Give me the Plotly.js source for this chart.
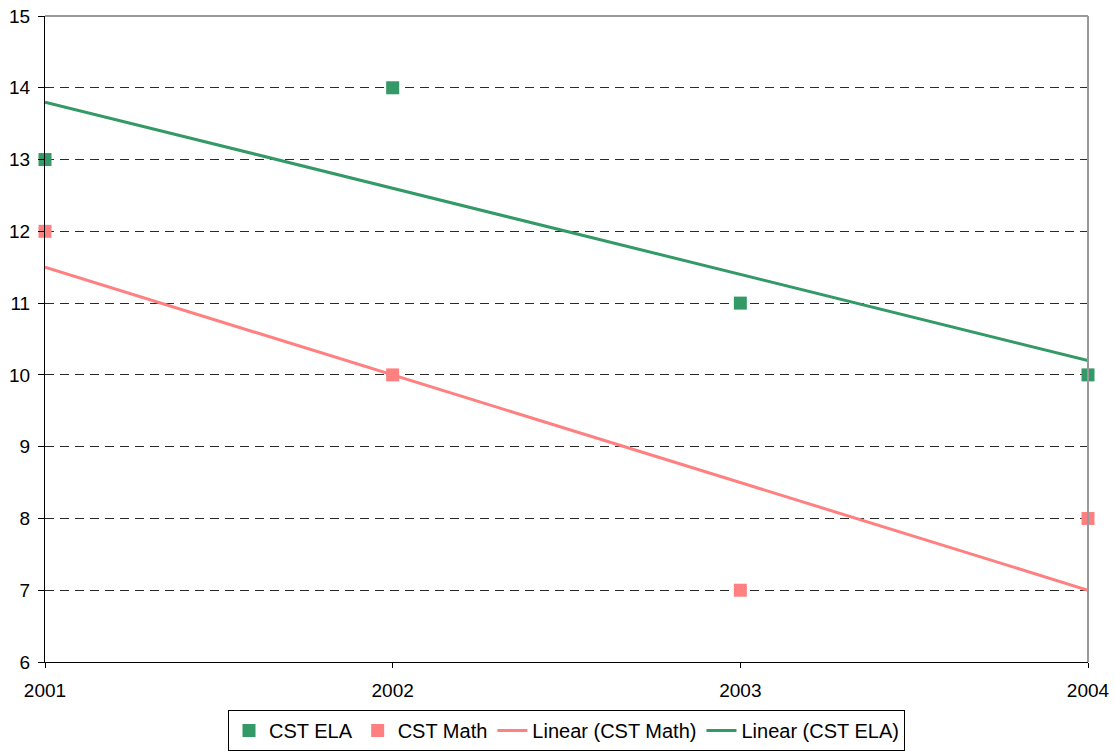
<!DOCTYPE html>
<html>
<head>
<meta charset="utf-8">
<script src="https://cdn.plot.ly/plotly-3.0.1.min.js"></script>
<style>html,body{margin:0;padding:0;background:#fff;}#chart{width:1115px;height:751px;}</style>
</head>
<body>
<div id="chart"></div>
<script>
var years = [2001, 2002, 2003, 2004];
var elaValues = [13, 14, 11, 10];
var mathValues = [12, 10, 7, 8];
var trendYears = [2001, 2004];
var elaTrend = [13.8, 10.2];
var mathTrend = [11.5, 7.0];
var yTicks = [6, 7, 8, 9, 10, 11, 12, 13, 14, 15];

var green = '#339966';
var pink = '#FF8080';

var traces = [
  {x: trendYears, y: mathTrend, mode: 'lines', name: 'Linear (CST Math)',
   line: {color: pink, width: 3}, legendrank: 3, cliponaxis: false},
  {x: trendYears, y: elaTrend, mode: 'lines', name: 'Linear (CST ELA)',
   line: {color: green, width: 3}, legendrank: 4, cliponaxis: false},
  {x: years, y: elaValues, mode: 'markers', name: 'CST ELA',
   marker: {symbol: 'square', size: 13, color: green}, legendrank: 1, cliponaxis: false},
  {x: years, y: mathValues, mode: 'markers', name: 'CST Math',
   marker: {symbol: 'square', size: 13, color: pink}, legendrank: 2, cliponaxis: false}
];

var layout = {
  width: 1115, height: 751,
  margin: {l: 45, r: 27, t: 16, b: 89, autoexpand: false},
  paper_bgcolor: '#ffffff', plot_bgcolor: '#ffffff',
  font: {family: 'Liberation Sans, Arial, sans-serif', size: 19, color: '#000'},
  showlegend: true,
  legend: {orientation: 'h', x: 0.5, xanchor: 'center', xref: 'paper',
           yref: 'container', y: 0.0, yanchor: 'bottom',
           bordercolor: '#000', borderwidth: 1, font: {size: 20},
           itemwidth: 30, traceorder: 'normal', tracegroupgap: 0},
  xaxis: {range: [2001, 2004], tickvals: years, ticktext: years.map(String),
          showgrid: false, zeroline: false, showline: true, linecolor: '#000', linewidth: 1,
          ticks: 'outside', ticklen: 5, tickcolor: '#000', ticklabelstandoff: 6,
          fixedrange: true},
  yaxis: {range: [6, 15], tickvals: yTicks, ticktext: yTicks.map(String),
          showgrid: true, gridcolor: '#2a2a2a', griddash: '9px,6px', gridwidth: 1,
          zeroline: false, showline: true, linecolor: '#000', linewidth: 1,
          ticks: 'outside', ticklen: 6, tickcolor: '#000', ticklabelstandoff: 4,
          fixedrange: true},
  shapes: [
    {type: 'line', xref: 'paper', yref: 'paper', x0: 0, x1: 1, y0: 1, y1: 1,
     line: {color: '#999999', width: 2}},
    {type: 'line', xref: 'paper', yref: 'paper', x0: 1, x1: 1, y0: 0, y1: 1,
     line: {color: '#999999', width: 2}}
  ]
};

Plotly.newPlot('chart', traces, layout, {displayModeBar: false, staticPlot: true});
</script>
</body>
</html>
